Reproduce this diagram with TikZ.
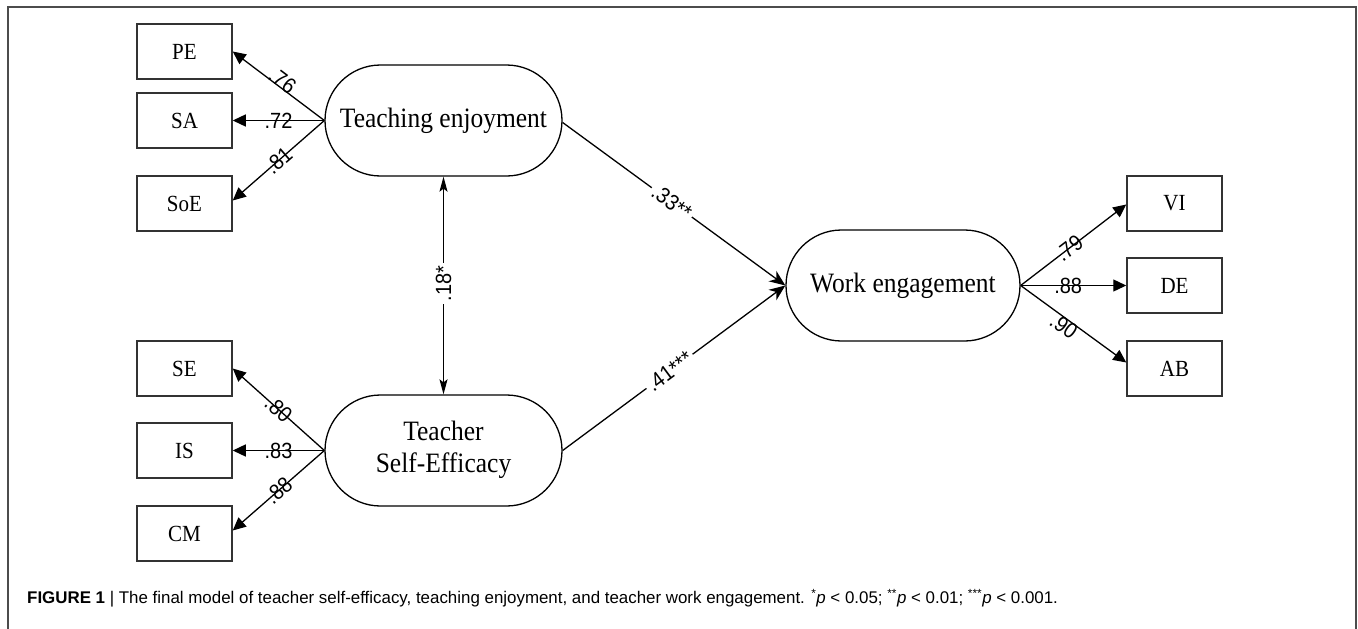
\documentclass[tikz,border=0pt]{standalone}
\usepackage{fontspec}
\usepackage{graphicx}
\setmainfont{Liberation Serif}
\setsansfont{Liberation Sans}
\usetikzlibrary{shapes.misc,arrows.meta}
\newcommand{\vstr}[1]{\scalebox{1}[1.1]{#1}}
\begin{document}
\begin{tikzpicture}[x=1pt,y=-1pt,
  obs/.style={draw=black!80,line width=1.5pt,minimum width=95pt,minimum height=55pt,inner sep=0pt,
    font=\fontsize{21}{25}\selectfont},
  lat/.style={draw=black,line width=1.3pt,rounded rectangle,minimum width=237pt,minimum height=111pt,inner sep=0pt,
    align=center,font=\fontsize{25.5}{29}\selectfont},
  load/.style={line width=1.3pt,-{Triangle[length=13pt,width=12pt]}},
  path/.style={line width=1.3pt,-{Stealth[length=16pt,width=13pt,inset=5pt]}},
  cov/.style={line width=1.3pt,{Stealth[length=15pt,width=8pt,inset=3pt]}-{Stealth[length=15pt,width=8pt,inset=3pt]}},
  coef/.style={font=\sffamily\fontsize{20}{24}\selectfont,inner sep=1pt},
  coefw/.style={coef,fill=white,inner sep=3pt}]
\useasboundingbox (0,0) rectangle (1358,629);
% frame
\draw[black!70,line width=1.5pt] (8,629) -- (8,7) -- (1356,7) -- (1356,629);
% observed
\node[obs] (pe)  at (184.5,51.5) {\vstr{PE}};
\node[obs] (sa)  at (184.5,120.5) {\vstr{SA}};
\node[obs] (soe) at (184.5,203.5) {\vstr{SoE}};
\node[obs] (se)  at (184.5,368.5) {\vstr{SE}};
\node[obs] (is)  at (184.5,450.5) {\vstr{IS}};
\node[obs] (cm)  at (184.5,533.5) {\vstr{CM}};
\node[obs] (vi)  at (1174.5,203.5) {\vstr{VI}};
\node[obs] (de)  at (1174.5,285.5) {\vstr{DE}};
\node[obs] (ab)  at (1174.5,368.5) {\vstr{AB}};
% latent
\node[lat] (te)  at (443.5,120.5) {\vstr{Teaching enjoyment}};
\node[lat] (tse) at (443.5,450.5) {\vstr{\begin{tabular}{@{}c@{}}Teacher\\Self-Efficacy\end{tabular}}};
\node[lat,minimum width=234pt] (we) at (903,285.5) {\vstr{Work engagement}};
% loadings
\draw[load] (te.west) -- node[coef,sloped,pos=0.5,anchor=south,inner ysep=-2pt]{\vstr{.76}} (pe.east);
\draw[load] (te.west) -- node[coef,pos=0.5]{\vstr{.72}} (sa.east);
\draw[load] (te.west) -- node[coef,sloped,pos=0.5]{\vstr{.81}} ([yshift=3pt]soe.east);
\draw[load] (tse.west) -- node[coef,sloped,pos=0.5]{\vstr{.80}} (se.east);
\draw[load] (tse.west) -- node[coef,pos=0.5]{\vstr{.83}} (is.east);
\draw[load] (tse.west) -- node[coef,sloped,pos=0.5]{\vstr{.88}} ([yshift=3pt]cm.east);
\draw[load] (we.east) -- node[coef,sloped,pos=0.46]{\vstr{.79}} ([yshift=-1pt]vi.west);
\draw[load] (we.east) -- node[coef,pos=0.45]{\vstr{.88}} (de.west);
\draw[load] (we.east) -- node[coef,sloped,pos=0.45,anchor=north,inner ysep=-1pt]{\vstr{.90}} ([yshift=6pt]ab.west);
% structural
\draw[path] ([yshift=-2pt]te.east) -- node[coefw,sloped,pos=0.49]{\vstr{.33**}} (we.west);
\draw[path] (tse.east) -- node[coefw,sloped,pos=0.48]{\vstr{.41***}} (we.west);
\draw[cov] (te.south) -- node[coefw,rotate=90,pos=0.49]{\vstr{.18*}} (tse.north);
% caption
\node[anchor=west,inner sep=0pt,font=\sffamily\fontsize{16.9}{19}\selectfont] (cap) at (27,598)
  {\textbf{FIGURE 1} | The final model of teacher self-efficacy, teaching enjoyment, and teacher work engagement. \textsuperscript{*}\textit{p} < 0.05; \textsuperscript{**}\textit{p} < 0.01; \textsuperscript{***}\textit{p} < 0.001.};
\end{tikzpicture}
\end{document}
